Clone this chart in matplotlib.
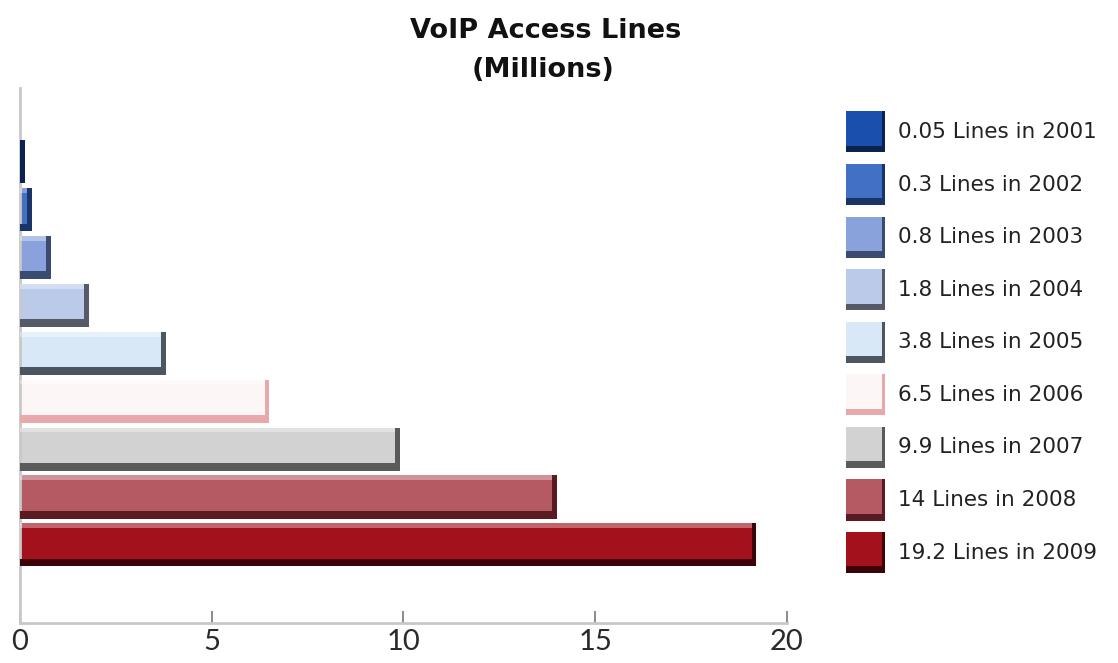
#!/usr/bin/env python3
import matplotlib
matplotlib.use("Agg")
import matplotlib.pyplot as plt
from matplotlib.patches import Rectangle

# Data (millions of VoIP access lines)
years = [2001, 2002, 2003, 2004, 2005, 2006, 2007, 2008, 2009]
values = [0.05, 0.3, 0.8, 1.8, 3.8, 6.5, 9.9, 14, 19.2]
value_labels = ["0.05", "0.3", "0.8", "1.8", "3.8", "6.5", "9.9", "14", "19.2"]
xticks = [0, 5, 10, 15, 20]

# face / shade colours for each year
faces = ["#1a4fae", "#4170c4", "#8aa2dc", "#bccaea", "#d9e8f6",
         "#fdf6f6", "#d2d2d2", "#b55a63", "#a3111d"]
shades = ["#0a2350", "#1b3467", "#3a4a70", "#555a66", "#4c5660",
          "#e8a9ad", "#5a5a5a", "#5a1a22", "#3c0408"]

fig = plt.figure(figsize=(11.18, 6.63), dpi=100)
ax = fig.add_axes([0.0179, 0.0603, 0.686, 0.807])

pos = list(range(len(years)))
h = 0.9
# main bar
ax.barh(pos, values, height=h, color=faces, edgecolor="none", zorder=2)
# dark lower strip to fake the bevel
ax.barh([p + h / 2 - 0.08 for p in pos], values, height=0.16,
        color=shades, edgecolor="none", zorder=3)
# light top strip
ax.barh([p - h / 2 + 0.05 for p in pos], values, height=0.1,
        color="white", alpha=0.35, edgecolor="none", zorder=3)
# dark right edge
ax.barh(pos, [0.12] * len(values), left=[max(v - 0.12, 0) for v in values],
        height=h, color=shades, edgecolor="none", zorder=4)

ax.set_xlim(0, 20)
ax.set_ylim(9.63, -1.54)
ax.set_yticks([])
ax.set_xticks(xticks)
ax.set_xticklabels([str(t) for t in xticks], fontsize=21, color="#2a2a2a",
                   family="Lato")
ax.tick_params(axis="x", direction="in", length=9, width=1.2, color="#777777", pad=4)

for s in ["top", "right"]:
    ax.spines[s].set_visible(False)
for s in ["left", "bottom"]:
    ax.spines[s].set_color("#c8c8c8")
    ax.spines[s].set_linewidth(2)

fig.text(0.488, 0.953, "VoIP Access Lines", ha="center", va="center",
         fontsize=19.5, fontweight="bold", family="DejaVu Sans", color="#111111")
fig.text(0.486, 0.894, "(Millions)", ha="center", va="center",
         fontsize=19.5, fontweight="bold", family="DejaVu Sans", color="#111111")

# legend drawn by hand
y0 = 0.801
dy = 0.0793
for i, (yr, lab) in enumerate(zip(years, value_labels)):
    yc = y0 - i * dy
    fig.add_artist(Rectangle((0.757, yc - 0.031), 0.035, 0.062,
                             transform=fig.transFigure, facecolor=faces[i],
                             edgecolor="none"))
    fig.add_artist(Rectangle((0.757, yc - 0.031), 0.035, 0.010,
                             transform=fig.transFigure, facecolor=shades[i],
                             edgecolor="none"))
    fig.add_artist(Rectangle((0.789, yc - 0.031), 0.003, 0.062,
                             transform=fig.transFigure, facecolor=shades[i],
                             edgecolor="none"))
    fig.text(0.803, yc, f"{lab} Lines in {yr}", ha="left", va="center",
             fontsize=15.5, family="DejaVu Sans", color="#222222")

fig.savefig("out.png", dpi=100)
